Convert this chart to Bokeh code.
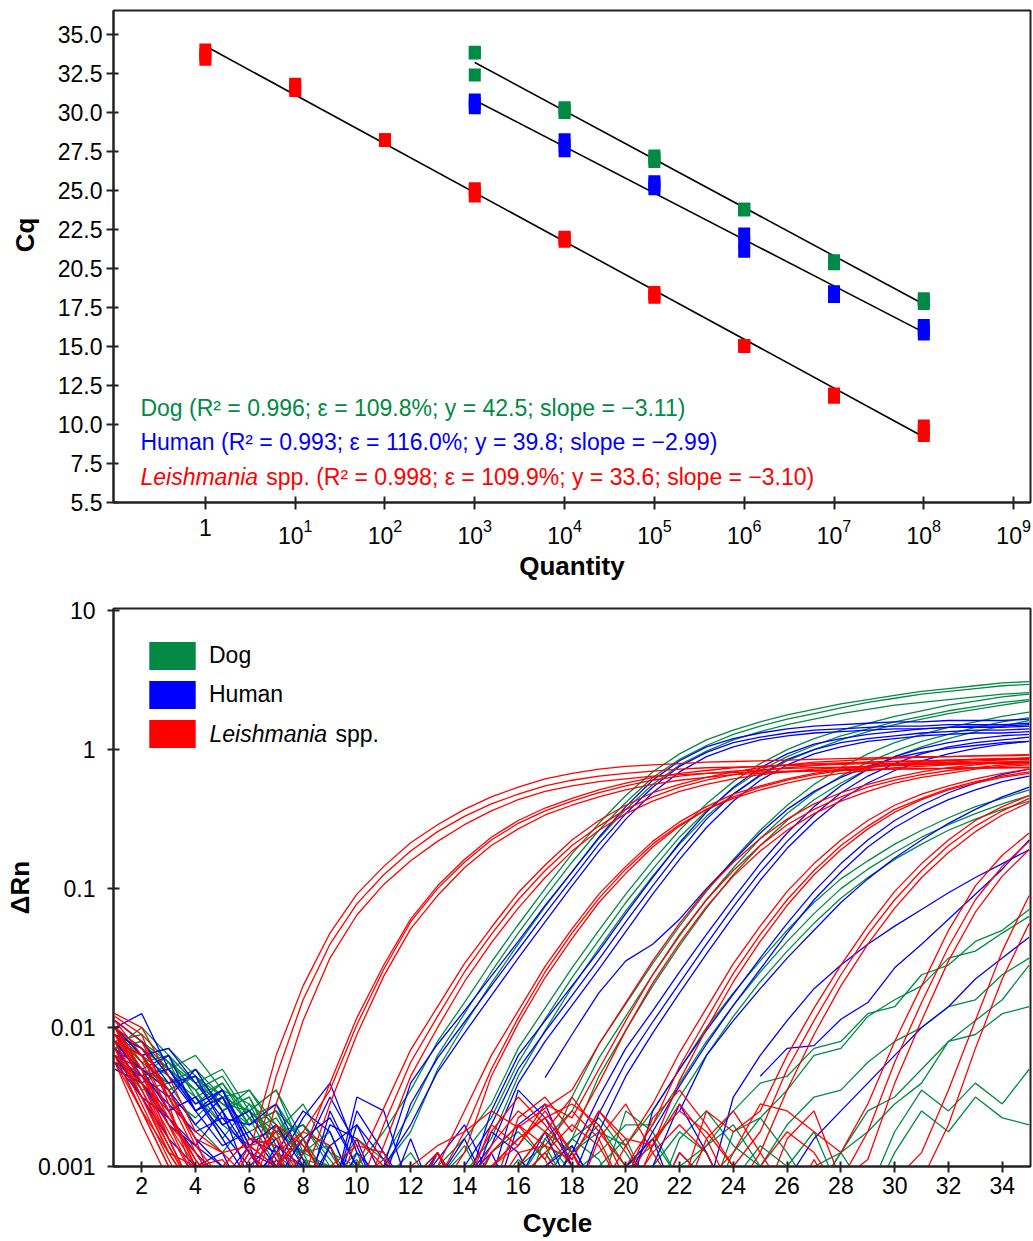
import numpy as np
from bokeh.plotting import figure
from bokeh.layouts import column
from bokeh.models import (Range1d, FixedTicker, PrintfTickFormatter, Label,
                          Legend, LegendItem)
from bokeh.embed import file_html
from bokeh.resources import INLINE

GREEN = "#008A45"
BLUE = "#0000FF"
RED = "#FF0000"
FONT = "Liberation Sans"
NB = "\u00a0"

# ---------------- standard-curve data (top chart) ----------------
leish_quantity = [1, 10, 100, 1e3, 1e4, 1e5, 1e6, 1e7, 1e8]
leish_cq = [[34.0, 33.7, 33.4], [31.8, 31.6, 31.4], [28.25, 28.2, 28.25],
            [25.1, 24.9, 24.65], [22.0, 21.9, 21.75], [18.45, 18.3, 18.15],
            [15.05, 15.0, 15.05], [11.95, 11.85, 11.75], [9.9, 9.6, 9.3]]
dog_quantity = [1e3, 1e4, 1e5, 1e6, 1e7, 1e8]
dog_cq = [[33.85, 33.8, 32.4], [30.3, 30.15, 30.0], [27.2, 27.05, 26.85],
          [23.8, 23.75, 23.8], [20.5, 20.4, 20.3], [18.05, 17.9, 17.75]]
human_quantity = [1e3, 1e4, 1e5, 1e6, 1e7, 1e8]
human_cq = [[30.8, 30.55, 30.3], [28.25, 27.9, 27.55], [25.55, 25.35, 25.1],
            [22.2, 21.65, 21.1], [18.5, 18.35, 18.2], [16.35, 16.05, 15.8]]
# regression lines (end points)
leish_fit_x = [1, 1e8]
leish_fit_y = [34.25, 9.2]
dog_fit_x = [1e3, 1e8]
dog_fit_y = [33.2, 17.7]
human_fit_x = [1e3, 1e8]
human_fit_y = [30.78, 15.9]

y_tick_values = [5, 7.5, 10, 12.5, 15, 17.5, 20, 22.5, 25, 27.5, 30, 32.5, 35]
y_tick_overrides = {20: "20.5", 5: "5.5"}
x_tick_values = [1, 1e1, 1e2, 1e3, 1e4, 1e5, 1e6, 1e7, 1e8, 1e9]

dog_text = "Dog (R\u00b2 = 0.996; \u03b5 = 109.8%; y = 42.5; slope = \u22123.11)"
human_text = "Human (R\u00b2 = 0.993; \u03b5 = 116.0%; y = 39.8; slope = \u22122.99)"
leish_text_italic = "Leishmania"
leish_text_rest = "spp. (R\u00b2 = 0.998; \u03b5 = 109.9%; y = 33.6; slope = \u22123.10)"

# ---------------- amplification data (bottom chart) ----------------
# log10(delta Rn) for cycles 1..35 ; "n" = no value
dog_curves = [
    "-1.95 -2.1 -2.25 -2.4 -2.55 -2.6 -2.8 -2.7 -2.9 -3.0 -2.75 -2.45 -2.1 -1.82 -1.53 -1.26 -1.0 -0.75 -0.53 -0.33 -0.16 -0.03 0.07 0.14 0.20 0.25 0.29 0.33 0.36 0.39 0.42 0.44 0.46 0.48 0.49",
    "-2.05 -2.2 -2.15 -2.35 -2.5 -2.75 -2.65 -2.95 -3.1 -2.8 -2.95 -2.6 -2.2 -1.9 -1.6 -1.32 -1.06 -0.81 -0.58 -0.38 -0.2 -0.07 0.03 0.11 0.17 0.22 0.26 0.3 0.34 0.37 0.4 0.42 0.44 0.46 0.47",
    "-2.1 -2.3 -2.4 -2.3 -2.6 -2.5 -2.85 -2.9 -2.75 -3.2 -3.0 -2.75 -2.3 -1.98 -1.68 -1.4 -1.13 -0.88 -0.64 -0.43 -0.25 -0.11 -0.01 0.07 0.13 0.18 0.22 0.26 0.29 0.32 0.34 0.36 0.38 0.4 0.41",
    "-2.0 -2.15 -2.3 -2.45 -2.35 -2.65 -2.55 -2.85 -3.1 -2.95 -3.3 -3.2 -3.0 -2.8 -2.55 -2.15 -1.86 -1.57 -1.3 -1.04 -0.8 -0.58 -0.39 -0.23 -0.1 0.0 0.08 0.14 0.19 0.24 0.28 0.32 0.35 0.38 0.4",
    "-2.1 -2.05 -2.25 -2.6 -2.5 -2.45 -2.75 -2.7 -2.95 -3.2 -3.0 -3.3 -3.1 -2.9 -2.65 -2.25 -1.94 -1.64 -1.37 -1.1 -0.86 -0.63 -0.44 -0.28 -0.15 -0.05 0.03 0.1 0.15 0.2 0.24 0.28 0.31 0.34 0.36",
    "-2.2 -2.35 -2.2 -2.5 -2.7 -2.6 -2.45 -2.9 -3.0 -3.3 -3.1 -2.9 -3.2 -3.05 -2.8 -2.35 -2.02 -1.71 -1.43 -1.16 -0.91 -0.68 -0.48 -0.32 -0.19 -0.08 0.0 0.07 0.13 0.18 0.22 0.26 0.29 0.32 0.35",
    "-2.05 -2.25 -2.2 -2.4 -2.6 -2.45 -2.7 -2.9 -2.85 -3.2 -3.3 -3.0 -3.3 -3.2 -2.9 -2.75 -2.95 -2.5 -2.12 -1.83 -1.54 -1.27 -1.02 -0.79 -0.58 -0.4 -0.25 -0.13 -0.03 0.05 0.11 0.16 0.2 0.24 0.27",
    "-2.15 -2.1 -2.35 -2.55 -2.4 -2.7 -2.6 -2.8 -3.1 -3.0 -3.3 -3.3 -3.1 -2.85 -3.2 -3.3 -2.8 -2.6 -2.22 -1.92 -1.62 -1.34 -1.08 -0.85 -0.64 -0.46 -0.31 -0.19 -0.09 -0.01 0.06 0.11 0.16 0.2 0.23",
    "-2.25 -2.4 -2.3 -2.45 -2.8 -2.55 -2.9 -3.0 -3.2 -3.3 -3.2 -3.0 -3.3 -3.3 -3.0 -3.2 -3.1 -2.8 -2.35 -2.02 -1.7 -1.41 -1.14 -0.9 -0.69 -0.51 -0.36 -0.24 -0.14 -0.05 0.02 0.08 0.13 0.17 0.21",
    "-2.1 -2.3 -2.45 -2.35 -2.55 -2.7 -2.6 -3.0 -3.2 -3.3 -3.1 -3.3 -3.2 -3.3 -3.0 -3.3 -3.2 -2.9 -2.75 -2.85 -2.6 -2.3 -2.0 -1.75 -1.52 -1.3 -1.1 -0.93 -0.8 -0.68 -0.58 -0.49 -0.41 -0.35 -0.29",
    "-2.0 -2.2 -2.5 -2.65 -2.45 -2.8 -2.75 -2.9 -3.3 -3.1 -3.3 -3.2 -3.3 -3.0 -3.3 -3.1 -2.8 -3.05 -2.9 -2.7 -2.7 -2.4 -2.1 -1.84 -1.6 -1.38 -1.18 -1.0 -0.86 -0.74 -0.63 -0.54 -0.46 -0.39 -0.33",
    "-2.2 -2.45 -2.4 -2.7 -2.9 -2.65 -3.0 -2.8 -3.2 -3.3 -3.3 -3.1 -3.3 -3.2 -3.3 -3.0 -3.3 -2.85 -3.2 -3.0 -2.85 -2.5 -2.2 -1.92 -1.67 -1.45 -1.25 -1.07 -0.92 -0.79 -0.68 -0.58 -0.5 -0.43 -0.37",
    "-2.05 -2.25 -2.4 -2.3 -2.5 -2.6 -2.75 -2.55 -2.9 -3.2 -3.3 -3.1 -3.3 -3.3 -3.2 -2.95 -3.1 -2.8 -2.65 -2.9 -3.2 -3.0 -2.85 -2.6 -2.4 -2.35 -2.15 -2.1 -1.9 -1.85 -1.62 -1.55 -1.38 -1.3 -1.15",
    "-2.15 -2.1 -2.3 -2.55 -2.45 -2.7 -2.6 -2.95 -3.0 -3.3 -3.2 -3.3 -3.1 -3.3 -3.3 -3.0 -2.75 -2.9 -3.2 -2.6 -2.75 -3.1 -3.3 -2.9 -2.65 -2.45 -2.2 -2.15 -1.92 -1.8 -1.7 -1.5 -1.45 -1.32 -1.2",
    "-2.3 -2.4 -2.25 -2.45 -2.7 -2.85 -2.7 -3.1 -3.3 -3.2 -3.3 -3.3 -3.2 -3.3 -3.1 -3.3 -3.2 -2.9 -2.7 -3.0 -3.3 -2.8 -2.6 -2.85 -3.0 -2.7 -2.5 -2.45 -2.25 -2.1 -2.0 -1.85 -1.8 -1.62 -1.5",
    "-2.0 -2.2 -2.35 -2.5 -2.4 -2.65 -2.8 -2.7 -3.0 -3.3 -3.3 -3.2 -3.3 -3.3 -3.3 -3.1 -2.9 -3.2 -3.3 -3.0 -2.8 -3.1 -3.3 -2.75 -2.65 -2.9 -3.2 -2.9 -2.6 -2.5 -2.3 -2.1 -1.95 -1.8 -1.55",
    "-2.1 -2.3 -2.45 -2.35 -2.6 -2.5 -2.9 -3.1 -3.3 -3.2 -3.3 -3.3 -3.3 -3.2 -3.3 -3.3 -3.0 -2.8 -2.95 -3.3 -3.3 -3.1 -2.85 -2.7 -3.0 -3.3 -3.2 -2.9 -2.75 -2.55 -2.4 -2.1 -2.05 -1.9 -1.85",
    "-2.05 -2.15 -2.3 -2.2 -2.45 -2.55 -2.7 -2.95 -3.2 -3.3 -3.1 -3.3 -3.3 -3.2 -3.3 -3.0 -2.85 -3.2 -3.3 -3.3 -3.0 -2.75 -2.9 -3.3 -3.2 -3.3 -3.0 -2.9 -3.2 -2.75 -2.45 -2.6 -2.4 -2.55 -2.3",
    "-2.15 -2.0 -2.2 -2.4 -2.3 -2.6 -2.45 -2.8 -3.1 -2.9 -3.3 -3.3 -3.2 -3.3 -3.3 -3.1 -3.3 -3.3 -3.0 -2.8 -3.2 -3.3 -3.3 -3.1 -2.85 -3.0 -2.75 -3.2 -3.3 -2.9 -2.6 -2.75 -2.5 -2.65 -2.7",
]
human_curves = [
    "-2.0 -1.9 -2.3 -2.55 -2.45 -2.8 -2.9 -2.6 -2.75 -3.2 -3.0 -2.4 -2.12 -1.88 -1.63 -1.38 -1.12 -0.88 -0.63 -0.41 -0.22 -0.08 0.02 0.08 0.12 0.15 0.17 0.18 0.19 0.2 0.2 0.21 0.21 0.21 0.22",
    "-2.1 -2.2 -2.15 -2.4 -2.65 -2.7 -2.55 -2.95 -3.3 -2.9 -3.1 -2.55 -2.22 -1.96 -1.7 -1.44 -1.18 -0.93 -0.68 -0.46 -0.27 -0.12 -0.02 0.05 0.09 0.12 0.14 0.15 0.16 0.17 0.17 0.18 0.18 0.18 0.19",
    "-2.25 -2.35 -2.5 -2.3 -2.6 -2.9 -3.0 -3.2 -2.85 -3.3 -3.0 -2.7 -2.32 -2.04 -1.77 -1.5 -1.24 -0.98 -0.73 -0.5 -0.31 -0.16 -0.05 0.02 0.07 0.1 0.12 0.13 0.14 0.15 0.15 0.16 0.16 0.16 0.17",
    "-2.05 -2.15 -2.4 -2.35 -2.7 -2.6 -2.95 -3.2 -2.7 -2.8 -3.3 -3.1 -2.9 -3.2 -2.6 -2.2 -1.95 -1.7 -1.45 -1.18 -0.92 -0.67 -0.45 -0.27 -0.13 -0.03 0.04 0.08 0.11 0.13 0.15 0.16 0.17 0.17 0.18",
    "-2.15 -2.3 -2.2 -2.6 -2.5 -2.85 -2.7 -3.0 -3.3 -2.6 -2.9 -3.2 -3.3 -3.0 -2.7 -2.3 -2.03 -1.77 -1.51 -1.24 -0.98 -0.73 -0.5 -0.32 -0.18 -0.07 0.0 0.05 0.08 0.1 0.12 0.13 0.14 0.14 0.15",
    "-2.3 -2.4 -2.6 -2.5 -2.8 -3.1 -2.9 -3.3 -3.1 -3.0 -3.3 -3.3 -3.2 -3.1 -2.85 -2.4 -2.1 -1.84 -1.58 -1.31 -1.04 -0.79 -0.56 -0.37 -0.22 -0.11 -0.03 0.02 0.06 0.08 0.1 0.11 0.12 0.12 0.13",
    "-2.0 -2.2 -2.45 -2.7 -2.5 -2.9 -3.1 -2.8 -2.65 -3.0 -3.3 -3.2 -2.95 -2.7 -3.1 -3.3 -3.2 -2.9 -2.5 -2.15 -1.88 -1.6 -1.33 -1.07 -0.82 -0.6 -0.41 -0.26 -0.14 -0.05 0.01 0.05 0.08 0.1 0.11",
    "-2.1 -2.35 -2.3 -2.6 -2.85 -2.75 -3.0 -3.3 -2.85 -2.7 -3.1 -3.3 -3.0 -3.3 -2.75 -2.9 -3.3 -3.1 -2.62 -2.25 -1.96 -1.68 -1.4 -1.13 -0.88 -0.66 -0.47 -0.31 -0.19 -0.1 -0.03 0.02 0.05 0.07 0.09",
    "-2.2 -2.5 -2.65 -2.85 -3.0 -3.2 -2.85 -3.0 -3.3 -3.1 -3.3 -2.8 -3.3 -3.1 -3.3 -3.2 -3.0 -3.3 -2.75 -2.35 -2.04 -1.75 -1.47 -1.2 -0.94 -0.71 -0.52 -0.36 -0.24 -0.15 -0.08 -0.03 0.01 0.04 0.06",
    "-2.05 -2.3 -2.6 -2.5 -2.75 -3.0 -2.8 -3.2 -3.3 -2.7 -2.95 -3.3 -3.1 -2.8 -3.2 -3.3 -3.0 -2.85 -3.2 -3.3 -2.6 -2.3 -2.02 -1.76 -1.5 -1.25 -1.02 -0.82 -0.65 -0.51 -0.4 -0.31 -0.24 -0.18 -0.14",
    "-2.15 -2.4 -2.7 -2.85 -2.6 -3.1 -3.3 -2.9 -2.5 -2.85 -3.3 -3.2 -2.9 -3.3 -3.3 -2.7 -2.55 -3.0 -3.3 -3.1 -2.75 -2.42 -2.12 -1.84 -1.58 -1.32 -1.08 -0.88 -0.7 -0.56 -0.45 -0.36 -0.29 -0.23 -0.19",
    "-2.25 -2.5 -2.8 -3.0 -2.9 -3.3 -3.1 -3.3 -3.2 -3.3 -3.0 -3.3 -3.3 -3.1 -2.9 -3.3 -3.3 -3.2 -3.3 -3.3 n -2.6 -2.2 -1.95 -1.72 -1.5 -1.3 -1.1 -0.93 -0.78 -0.65 -0.53 -0.43 -0.34 -0.27",
    "-2.1 -2.35 -2.55 -2.75 -2.65 -2.9 -3.2 -3.3 -2.6 -3.0 -3.3 -3.3 -3.2 -3.3 -3.1 -2.45 -2.65 -3.0 -3.3 -3.2 -3.3 -2.9 -3.1 n -2.35 -2.15 -2.13 -1.94 -1.82 -1.57 -1.4 -1.22 -1.04 -0.86 -0.65",
    "-2.2 -2.3 -2.45 -2.8 -3.0 -3.3 -2.95 -3.1 -3.3 -3.3 -3.2 -3.3 -2.9 -3.3 -3.3 -3.1 -2.75 -3.2 -3.3 -3.0 -2.8 -3.3 -3.2 -2.5 -2.2 -1.95 -1.72 -1.55 -1.4 -1.27 -1.15 -1.03 -0.92 -0.82 -0.72",
    "-2.15 -2.4 -2.65 -2.9 -3.1 -2.85 -3.3 -3.2 -3.3 -2.5 -2.6 -3.2 -3.3 -3.3 -3.2 -3.3 -3.3 -3.1 -3.3 -3.3 -3.0 -2.55 -2.9 -3.3 -3.3 -3.1 -2.8 -2.6 -2.4 -2.2 -2.0 -1.85 -1.65 -1.5 -1.35",
    "-1.95 -2.1 -2.35 -2.6 -2.45 -2.85 -3.0 -2.65 -2.4 -2.9 n n n n n n -2.36 -2.05 -1.75 -1.52 -1.4 -1.22 -1.0 -0.8 -0.6 -0.43 -0.3 -0.2 -0.12 -0.06 -0.02 0.01 0.03 0.05 0.06",
]
leish_curves = [
    "-1.92 -2.05 -2.55 -3.1 -3.2 -2.9 -2.2 -1.7 -1.32 -1.04 -0.84 -0.67 -0.54 -0.43 -0.34 -0.27 -0.21 -0.17 -0.14 -0.12 -0.11 -0.10 -0.09 -0.085 -0.08 -0.075 -0.07 -0.065 -0.06 -0.055 -0.05 -0.05 -0.045 -0.045 -0.04",
    "-2.0 -2.3 -2.7 -2.9 -3.2 -3.1 -2.35 -1.8 -1.4 -1.11 -0.9 -0.73 -0.59 -0.48 -0.39 -0.32 -0.26 -0.22 -0.19 -0.17 -0.155 -0.14 -0.13 -0.125 -0.12 -0.115 -0.11 -0.105 -0.10 -0.10 -0.095 -0.095 -0.09 -0.09 -0.09",
    "-2.1 -2.2 -2.45 -2.8 -3.3 -3.2 -2.55 -1.95 -1.5 -1.19 -0.97 -0.8 -0.66 -0.54 -0.44 -0.36 -0.30 -0.26 -0.23 -0.21 -0.19 -0.18 -0.17 -0.165 -0.16 -0.155 -0.15 -0.145 -0.14 -0.14 -0.135 -0.135 -0.13 -0.13 -0.13",
    "-1.95 -2.1 -2.5 -2.8 -2.9 -2.85 -3.0 -2.75 -2.45 -1.98 -1.58 -1.24 -1.0 -0.81 -0.65 -0.53 -0.44 -0.37 -0.31 -0.26 -0.22 -0.19 -0.17 -0.155 -0.145 -0.135 -0.13 -0.125 -0.12 -0.115 -0.11 -0.105 -0.10 -0.10 -0.095",
    "-2.2 -2.4 -2.6 -3.0 -3.3 -3.2 -2.7 -3.1 -2.55 -2.05 -1.63 -1.29 -1.05 -0.85 -0.69 -0.57 -0.47 -0.40 -0.34 -0.29 -0.25 -0.22 -0.20 -0.18 -0.17 -0.16 -0.155 -0.15 -0.145 -0.14 -0.14 -0.135 -0.13 -0.13 -0.125",
    "-2.05 -2.3 -2.8 -3.2 -3.0 -3.3 -3.2 -2.9 -2.4 -1.93 -1.55 -1.22 -0.98 -0.79 -0.63 -0.51 -0.42 -0.35 -0.29 -0.24 -0.20 -0.17 -0.15 -0.13 -0.12 -0.11 -0.10 -0.095 -0.09 -0.085 -0.08 -0.075 -0.07 -0.07 -0.065",
    "-2.0 -2.25 -2.6 -2.95 -3.2 -2.85 -2.8 -3.1 -3.3 -3.0 -2.58 -2.16 -1.85 -1.54 -1.28 -1.03 -0.83 -0.65 -0.51 -0.40 -0.31 -0.25 -0.20 -0.16 -0.13 -0.11 -0.09 -0.08 -0.07 -0.06 -0.055 -0.05 -0.045 -0.04 -0.035",
    "-1.9 -2.0 -2.35 -2.75 -2.9 -3.1 -2.7 -2.85 -3.1 -3.2 -2.7 -2.25 -1.92 -1.6 -1.33 -1.08 -0.87 -0.69 -0.55 -0.43 -0.34 -0.27 -0.22 -0.18 -0.15 -0.13 -0.115 -0.10 -0.09 -0.085 -0.08 -0.075 -0.07 -0.065 -0.06",
    "-2.15 -2.5 -2.9 -3.0 -2.95 -3.2 -2.9 -2.75 -2.85 -3.3 -2.85 -2.35 -2.0 -1.67 -1.39 -1.14 -0.92 -0.73 -0.58 -0.46 -0.37 -0.30 -0.25 -0.21 -0.18 -0.16 -0.14 -0.13 -0.12 -0.11 -0.105 -0.10 -0.095 -0.09 -0.09",
    "-2.0 -2.4 -2.75 -3.1 -3.3 -2.95 -2.75 -3.2 -3.3 -3.1 -2.95 -3.2 -3.0 -2.6 -2.2 -1.88 -1.56 -1.29 -1.04 -0.84 -0.66 -0.52 -0.41 -0.32 -0.26 -0.21 -0.17 -0.14 -0.12 -0.10 -0.09 -0.08 -0.07 -0.065 -0.06",
    "-2.1 -2.2 -2.5 -2.9 -3.2 -3.3 -3.0 -2.8 -3.2 -3.3 -3.1 -3.3 -3.2 -2.9 -2.35 -1.97 -1.64 -1.36 -1.1 -0.89 -0.7 -0.55 -0.43 -0.34 -0.27 -0.22 -0.18 -0.15 -0.13 -0.11 -0.10 -0.09 -0.08 -0.075 -0.07",
    "-2.25 -2.6 -2.9 -3.2 -3.0 -2.8 -2.85 -3.3 -3.1 -3.2 -3.3 -3.0 -2.85 -2.75 -2.3 -1.93 -1.6 -1.32 -1.07 -0.86 -0.68 -0.54 -0.43 -0.35 -0.29 -0.24 -0.2 -0.17 -0.15 -0.13 -0.12 -0.11 -0.10 -0.095 -0.09",
    "-2.05 -2.35 -2.7 -3.0 -3.2 -2.9 -3.1 -3.3 -3.2 -3.0 -3.3 -3.2 -3.1 -2.75 -2.6 -2.72 -2.58 -2.45 -2.12 -1.82 -1.52 -1.25 -1.01 -0.81 -0.64 -0.5 -0.39 -0.31 -0.25 -0.2 -0.16 -0.13 -0.11 -0.09 -0.08",
    "-2.0 -2.15 -2.45 -2.85 -3.1 -3.3 -2.95 -3.1 -3.3 -2.8 -3.0 -3.3 -2.9 -3.2 -2.7 -2.85 -2.55 -2.65 -2.3 -1.95 -1.62 -1.33 -1.08 -0.87 -0.69 -0.54 -0.43 -0.34 -0.27 -0.22 -0.18 -0.15 -0.13 -0.11 -0.10",
    "-2.1 -2.45 -2.8 -3.2 -3.3 -3.0 -3.2 -3.3 -3.1 -3.3 -3.2 -3.0 -3.3 -3.1 -3.2 -2.65 -2.5 -2.75 -2.4 -2.02 -1.68 -1.39 -1.13 -0.91 -0.73 -0.58 -0.46 -0.37 -0.3 -0.24 -0.2 -0.17 -0.14 -0.12 -0.11",
    "-1.95 -2.2 -2.6 -3.0 -3.3 -3.1 -3.2 -3.3 -3.0 -2.85 -2.9 -3.3 -3.2 -3.3 -3.0 -2.8 -2.65 -2.9 -3.2 -2.85 -2.55 -2.18 -1.86 -1.54 -1.27 -1.02 -0.82 -0.65 -0.51 -0.4 -0.32 -0.26 -0.21 -0.17 -0.14",
    "-2.05 -2.3 -2.65 -2.95 -3.2 -3.3 -3.0 -3.3 -3.2 -3.3 -3.1 -3.3 -3.3 -3.2 -2.85 -2.6 -2.75 -2.5 -2.75 -3.0 -2.7 -2.28 -1.94 -1.61 -1.33 -1.08 -0.87 -0.69 -0.55 -0.43 -0.35 -0.28 -0.23 -0.19 -0.16",
    "-2.15 -2.5 -2.9 -3.2 -3.3 -3.2 -3.3 -3.0 -3.3 -3.2 -3.3 -3.1 -2.9 -3.3 -3.2 -2.9 -2.85 -2.95 -2.6 -2.8 -2.85 -2.38 -2.01 -1.67 -1.38 -1.12 -0.9 -0.72 -0.57 -0.45 -0.36 -0.29 -0.24 -0.2 -0.17",
    "-2.0 -2.3 -2.7 -3.1 -3.3 -3.2 -2.9 -3.3 -3.1 -3.3 -3.2 -3.3 -3.0 -3.3 -2.9 -2.7 -2.95 -3.3 -2.8 -2.55 -2.9 -3.2 -2.6 -2.75 -2.6 -2.2 -1.86 -1.55 -1.27 -1.02 -0.82 -0.65 -0.51 -0.41 -0.33",
    "-2.1 -2.5 -2.85 -3.2 -3.0 -3.3 -3.2 -3.3 -3.3 -3.2 -3.3 -3.1 -3.3 -3.2 -3.0 -2.85 -2.6 -2.9 -3.3 -3.1 -2.8 -2.6 -2.75 -3.0 -2.75 -2.3 -1.95 -1.62 -1.33 -1.08 -0.87 -0.69 -0.55 -0.44 -0.35",
    "-2.2 -2.6 -3.0 -3.3 -3.2 -3.3 -3.0 -3.2 -3.3 -3.3 -3.1 -3.3 -3.2 -3.3 -3.3 -3.1 -2.9 -2.7 -2.85 -3.2 -3.3 -2.9 -3.1 -3.2 -2.9 -2.45 -2.05 -1.7 -1.4 -1.14 -0.92 -0.74 -0.59 -0.47 -0.38",
    "-2.05 -2.4 -2.8 -3.2 -3.3 -3.1 -3.3 -3.2 -3.3 -3.0 -3.3 -3.3 -3.2 -3.1 -2.75 -2.5 -2.7 -2.95 -2.6 -2.85 -3.2 -3.3 -3.1 -2.9 -2.55 -2.6 -2.75 -2.9 -2.55 -2.1 -1.7 -1.3 -0.98 -0.76 -0.6",
    "-2.15 -2.55 -2.95 -3.3 -3.2 -3.3 -3.3 -3.1 -3.2 -3.3 -3.3 -3.2 -3.3 -3.3 -3.0 -2.8 -2.65 -2.55 -2.7 -3.1 -2.65 -2.45 -2.7 -3.0 -3.3 -2.8 -2.6 -3.1 -2.75 -2.25 -1.82 -1.42 -1.08 -0.84 -0.66",
    "-2.25 -2.7 -3.1 -3.3 -3.3 -3.2 -3.3 -3.3 -3.3 -3.2 -3.3 -3.3 -3.3 -3.2 -3.3 -3.1 -2.9 -3.2 -3.3 -3.0 -3.2 -3.3 -2.8 -2.6 -2.9 -3.2 -3.3 -3.1 -2.95 -2.4 -1.95 -1.52 -1.17 -0.91 -0.72",
    "-2.1 -2.45 -2.85 -3.2 -3.3 -3.3 -3.2 -3.3 -3.3 -3.3 -3.2 -3.3 -3.3 -3.3 -2.9 -2.7 -2.85 -2.6 -2.8 -3.2 -2.9 -2.7 -2.9 -3.3 -3.0 -2.75 -2.9 -3.2 -3.3 -3.1 -2.9 -2.45 -1.95 -1.45 -1.05",
    "-2.2 -2.6 -3.0 -3.3 -3.3 -3.3 -3.3 -3.2 -3.3 -3.3 -3.3 -3.3 -3.2 -3.3 -3.3 -3.0 -2.75 -3.0 -3.3 -3.3 -2.85 -2.55 -2.8 -3.2 -3.3 -3.3 -2.95 -3.3 -3.3 -3.2 -3.1 -2.7 -2.15 -1.65 -1.25",
]
cycle_ticks = list(range(2, 35, 2))
drn_ticks = [0.001, 0.01, 0.1, 1, 10]
drn_labels = {0.001: "0.001", 0.01: "0.01", 0.1: "0.1", 1: "1", 10: "10"}
legend_names = ["Dog", "Human", "Leishmania", "spp."]


def parse(s):
    return np.array([np.nan if t == "n" else float(t) for t in s.split()])


def style_axis(ax, tick_in, tick_out, standoff):
    ax.axis_line_width = 2
    ax.axis_line_color = "#222222"
    ax.major_tick_line_width = 2
    ax.major_tick_line_color = "#222222"
    ax.major_tick_in = tick_in
    ax.major_tick_out = tick_out
    ax.minor_tick_line_color = None
    ax.major_label_text_font = FONT
    ax.major_label_text_font_size = "23px"
    ax.major_label_text_color = "black"
    ax.major_label_standoff = standoff


def axis_title(ax, text, standoff):
    ax.axis_label = text
    ax.axis_label_text_font = FONT
    ax.axis_label_text_font_size = "26px"
    ax.axis_label_text_font_style = "bold"
    ax.axis_label_text_color = "black"
    ax.axis_label_standoff = standoff


# ---------------- top figure ----------------
TX_LO, TX_HI = -1.023, 9.188
TY_LO, TY_HI = 5.0, 36.53
p1 = figure(width=1032, height=583, x_axis_type="log",
            x_range=Range1d(10 ** TX_LO, 10 ** TX_HI), y_range=Range1d(TY_LO, TY_HI),
            output_backend="svg", toolbar_location=None,
            min_border_left=113, min_border_right=1, min_border_top=10, min_border_bottom=73)
p1.grid.visible = False
p1.outline_line_color = "#222222"
p1.outline_line_width = 2
style_axis(p1.xaxis[0], 6, 7, 9)
style_axis(p1.yaxis[0], 5, 7, 4)
p1.xaxis[0].ticker = FixedTicker(ticks=x_tick_values)
p1.xaxis[0].major_label_overrides = {1: "1"}
p1.yaxis[0].ticker = FixedTicker(ticks=y_tick_values)
p1.yaxis[0].formatter = PrintfTickFormatter(format="%.1f")
p1.yaxis[0].major_label_overrides = y_tick_overrides
axis_title(p1.xaxis[0], "Quantity", 4)
axis_title(p1.yaxis[0], NB * 6 + "Cq", 15)


def top_x(px):
    return 10 ** (TX_LO + (px - 113) / 918 * (TX_HI - TX_LO))


def top_y(py):
    return TY_HI - (py - 10) / 500 * (TY_HI - TY_LO)


for fx, fy in [(leish_fit_x, leish_fit_y), (dog_fit_x, dog_fit_y), (human_fit_x, human_fit_y)]:
    p1.line(fx, fy, line_color="black", line_width=1.6)

for qty, cq, col in [(leish_quantity, leish_cq, RED), (dog_quantity, dog_cq, GREEN),
                     (human_quantity, human_cq, BLUE)]:
    xs = [q for q, reps in zip(qty, cq) for _ in reps]
    ys = [v for reps in cq for v in reps]
    p1.rect(xs, ys, width=12, height=13, width_units="screen", height_units="screen",
            fill_color=col, line_color=None)

txt = dict(text_font=FONT, text_font_size="23px", text_baseline="alphabetic")
p1.add_layout(Label(x=top_x(140), y=top_y(414), text=dog_text, text_color=GREEN, **txt))
p1.add_layout(Label(x=top_x(140), y=top_y(449), text=human_text, text_color=BLUE, **txt))
p1.add_layout(Label(x=top_x(140), y=top_y(484), text=leish_text_italic, text_color=RED,
                    text_font_style="italic", **txt))
p1.add_layout(Label(x=top_x(266), y=top_y(484), text=leish_text_rest, text_color=RED, **txt))

# ---------------- bottom figure ----------------
BX_LO, BX_HI = 0.95, 35.05
BY_LO, BY_HI = -3.0, 1.016
p2 = figure(width=1032, height=658, y_axis_type="log",
            x_range=Range1d(BX_LO, BX_HI), y_range=Range1d(10 ** BY_LO, 10 ** BY_HI),
            output_backend="svg", toolbar_location=None,
            min_border_left=113, min_border_right=2, min_border_top=25, min_border_bottom=75)
p2.grid.visible = False
p2.outline_line_color = "#222222"
p2.outline_line_width = 2
style_axis(p2.xaxis[0], 5, 6, 4)
style_axis(p2.yaxis[0], 6, 6, 12)
p2.xaxis[0].ticker = FixedTicker(ticks=cycle_ticks)
p2.yaxis[0].ticker = FixedTicker(ticks=drn_ticks)
p2.yaxis[0].major_label_overrides = drn_labels
axis_title(p2.yaxis[0], "\u0394Rn", 0)
axis_title(p2.xaxis[0], "Cycle" + NB * 4, 11)


def bot_x(px):
    return BX_LO + (px - 113) / 917 * (BX_HI - BX_LO)


def bot_y(py):
    return 10 ** (BY_HI - (py - 608) / 558 * (BY_HI - BY_LO))


for curves, col in [(dog_curves, GREEN), (human_curves, BLUE), (leish_curves, RED)]:
    for s in curves:
        v = parse(s)
        cyc = np.arange(1, len(v) + 1)
        p2.line(cyc, 10 ** v, line_color=col, line_width=1.3)

box_renderers = [p2.rect(x=[np.nan], y=[np.nan], width=1, height=1, fill_color=c, line_color=None)
                 for c in (GREEN, BLUE, RED)]
legend = Legend(items=[LegendItem(label=legend_names[0], renderers=[box_renderers[0]]),
                       LegendItem(label=legend_names[1], renderers=[box_renderers[1]]),
                       LegendItem(label=" ", renderers=[box_renderers[2]])],
                location="top_left", margin=0, padding=30, spacing=4,
                glyph_width=58, glyph_height=35, label_standoff=8,
                label_text_font=FONT, label_text_font_size="23px", label_text_color="black",
                background_fill_alpha=0, border_line_alpha=0)
p2.add_layout(legend)
row3 = 608 + 30 + 2 * (35 + 4) + 17.5
p2.add_layout(Label(x=bot_x(209), y=bot_y(row3), text=legend_names[2], text_font=FONT,
                    text_font_size="23px", text_font_style="italic",
                    text_baseline="middle", text_color="black"))
p2.add_layout(Label(x=bot_x(335), y=bot_y(row3), text=legend_names[3], text_font=FONT,
                    text_font_size="23px", text_baseline="middle", text_color="black"))

layout = column(p1, p2)
open("out.html", "w").write(file_html(layout, INLINE))
